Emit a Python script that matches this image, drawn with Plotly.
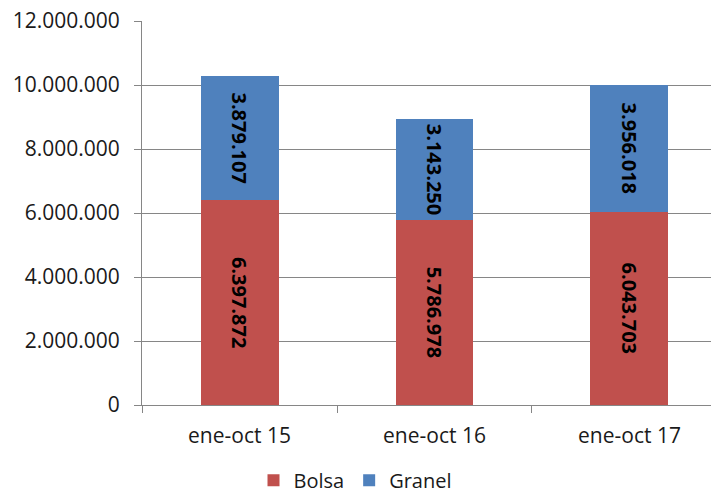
import plotly.graph_objects as go

categories = ["ene-oct 15", "ene-oct 16", "ene-oct 17"]
bolsa = [6397872, 5786978, 6043703]
granel = [3879107, 3143250, 3956018]
y_ticks = [0, 2000000, 4000000, 6000000, 8000000, 10000000, 12000000]

RED = "#C0504D"
BLUE = "#4F81BD"
FONT = "Open Sans"

fig = go.Figure()
for name, vals, color in [("Bolsa", bolsa, RED), ("Granel", granel, BLUE)]:
    fig.add_trace(go.Bar(
        name=name, x=categories, y=vals, marker=dict(color=color, line=dict(width=0)),
        width=0.4,
        texttemplate="%{y:,d}", textposition="inside", insidetextanchor="middle",
        textangle=90, constraintext="none",
        textfont=dict(family=FONT, size=20, color="black", weight="bold"),
    ))

fig.update_layout(
    barmode="stack",
    width=711, height=496,
    margin=dict(l=142, r=0, t=21, b=91),
    paper_bgcolor="white", plot_bgcolor="white",
    separators=",.",
    font=dict(family=FONT, size=21, color="#1a1a1a"),
    showlegend=True,
    legend=dict(orientation="h", xref="container", yref="container",
                x=0.5, xanchor="center", y=0.032, yanchor="middle",
                font=dict(size=20), traceorder="normal", itemwidth=30,
                tracegroupgap=0),
    xaxis=dict(range=[-0.5, 2.418], tickson="boundaries", ticks="outside",
               ticklen=7, tickcolor="#868686", showline=True, linecolor="#868686",
               linewidth=1, showgrid=False, tickfont=dict(size=21),
               ticklabelstandoff=12),
    yaxis=dict(range=[0, 12000000], tickvals=y_ticks, tickformat=",d",
               ticks="outside", ticklen=7, tickcolor="#868686",
               showline=True, linecolor="#868686", linewidth=1,
               showgrid=True, gridcolor="#868686", gridwidth=1,
               zeroline=False, tickfont=dict(size=21), ticklabelstandoff=10),
)

fig.write_html("out.html")
